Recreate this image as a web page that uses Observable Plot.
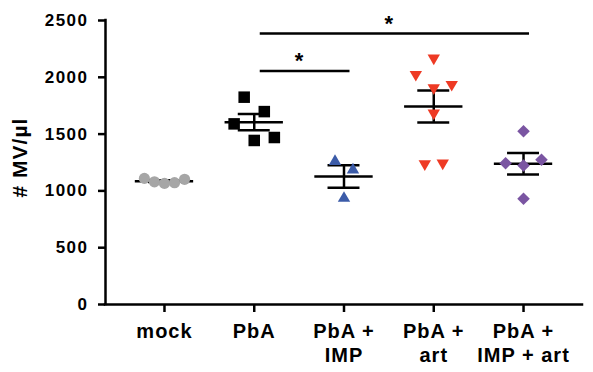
<!DOCTYPE html>
<html><head><meta charset="utf-8">
<script src="https://cdn.jsdelivr.net/npm/d3@7"></script>
<script src="https://cdn.jsdelivr.net/npm/@observablehq/plot@0.6"></script>
<style>
html,body{margin:0;padding:0;background:#fff;}
svg text{font-family:"Liberation Sans",Arial,Helvetica,sans-serif;font-weight:bold;}
</style></head><body><div id="chart"></div>
<script>
// ---- data ----
const categories = ["mock", "PbA", "PbA + IMP", "PbA + art", "PbA + IMP + art"];
const tickLabels = ["mock", "PbA", "PbA +\nIMP", "PbA +\nart", "PbA +\nIMP + art"];
const mockValues = [1110, 1080, 1066, 1072, 1102];
const pbaValues = [1590, 1825, 1444, 1698, 1470];
const impValues = [1260, 935, 1185];
const artValues = [2170, 2025, 1908, 1937, 1684, 1239, 1244];
const impArtValues = [1526, 1244, 1224, 1274, 930];
const yTicks = [0, 500, 1000, 1500, 2000, 2500];
const yLabel = "# MV/µl";
const sigFrom = ["PbA", "PbA"];
const sigTo = ["PbA + IMP", "PbA + IMP + art"];
const sigLevel = [2055, 2385];
const sigLabel = ["*", "*"];

// ---- styles ----
const groupColors = ["#a6a6a6", "#000000", "#3b5ba8", "#ee3a24", "#7a55a2"];
const groupSymbols = ["circle", "square", "triangle", "triangle", "square"];
const groupRotate = [0, 0, 0, 180, 45];
const groupR = [5.6, 6.5, 4.6, 4.6, 5];

// ---- layout (beeswarm-like spreading of near-equal values) ----
const seriesValues = [mockValues, pbaValues, impValues, artValues, impArtValues];
const CLUSTER_GAP = 140;
function spreadOffsets(vals) {
  const idx = d3.range(vals.length).sort((a, b) => vals[a] - vals[b]);
  const clusters = [];
  let cur = [idx[0]];
  for (let k = 1; k < idx.length; k++) {
    if (vals[idx[k]] - vals[idx[k - 1]] < CLUSTER_GAP) cur.push(idx[k]);
    else { clusters.push(cur); cur = [idx[k]]; }
  }
  clusters.push(cur);
  const off = new Array(vals.length).fill(0);
  for (const c of clusters) {
    c.sort((a, b) => a - b);
    const n = c.length, s = n >= 4 ? 0.112 : 0.2;
    c.forEach((i, k) => off[i] = (k - (n - 1) / 2) * s);
  }
  return off;
}

const points = [];
const stats = [];
seriesValues.forEach((vals, g) => {
  const off = spreadOffsets(vals);
  vals.forEach((v, i) => points.push({g, x: g + off[i], value: v}));
  const m = d3.mean(vals);
  const sem = d3.deviation(vals) / Math.sqrt(vals.length);
  stats.push({i: g, mean: m, lo: m - sem, hi: m + sem});
});

const sig = sigLevel.map((lv, k) => ({
  x1: categories.indexOf(sigFrom[k]),
  x2: categories.indexOf(sigTo[k]),
  level: lv,
  label: sigLabel[k]
}));

const pad = 0.657;
const n = categories.length;
const xDomain = [-pad, n - 1 + pad];
const SW = 2.5;

const marks = [
  Plot.ruleX([xDomain[0]], {stroke: "#000", strokeWidth: SW, strokeLinecap: "square"}),
  Plot.ruleY([0], {stroke: "#000", strokeWidth: SW, strokeLinecap: "square"}),
  Plot.axisY({ticks: yTicks, tickFormat: d => String(d), tickSize: 7, tickPadding: 10, strokeWidth: SW, fontSize: 17, fill: "#000", label: null}),
  Plot.axisX({ticks: d3.range(n), tickFormat: i => tickLabels[i], tickSize: 8, tickPadding: 8, strokeWidth: SW, fontSize: 20, lineHeight: 1.2, fill: "#000", label: null}),
  Plot.text([yLabel], {text: d => d, frameAnchor: "left", textAnchor: "middle", rotate: -90, dx: -85, dy: -5, fontSize: 21, fontWeight: "bold", fill: "#000"}),
  // significance bars
  Plot.ruleY(sig, {y: "level", x1: "x1", x2: "x2", dx: 6, stroke: "#000", strokeWidth: SW}),
  Plot.text(sig, {x: d => (d.x1 + d.x2) / 2, y: "level", text: "label", dy: -10, fontSize: 22, fontWeight: "bold", fill: "#000"}),
  // mean and SEM
  Plot.ruleY(stats, {y: "mean", x1: d => d.i - 0.325, x2: d => d.i + 0.325, stroke: "#000", strokeWidth: SW}),
  Plot.ruleY(stats, {y: "hi", x1: d => d.i - 0.178, x2: d => d.i + 0.178, stroke: "#000", strokeWidth: SW}),
  Plot.ruleY(stats, {y: "lo", x1: d => d.i - 0.178, x2: d => d.i + 0.178, stroke: "#000", strokeWidth: SW}),
  Plot.ruleX(stats, {x: "i", y1: "lo", y2: "hi", stroke: "#000", strokeWidth: SW})
];
categories.forEach((c, g) => {
  marks.push(Plot.dot(points.filter(p => p.g === g), {
    x: "x", y: "value", symbol: groupSymbols[g], r: groupR[g],
    fill: groupColors[g], stroke: "none", rotate: groupRotate[g]
  }));
});

const chart = Plot.plot({
  width: 593, height: 372,
  marginLeft: 105, marginRight: 11, marginTop: 20, marginBottom: 68,
  style: {background: "#fff", color: "#000"},
  x: {domain: xDomain},
  y: {domain: [0, 2500]},
  marks
});
document.getElementById("chart").appendChild(chart);
const svg = d3.select(chart);
svg.selectAll('g[aria-label="y-axis tick label"] text').style("letter-spacing", "1.5px");
svg.selectAll('g[aria-label="x-axis tick label"] text').style("letter-spacing", "1px");
svg.selectAll('g[aria-label="text"] text').filter(function () { return this.textContent === yLabel; }).style("letter-spacing", "1px");
</script></body></html>
